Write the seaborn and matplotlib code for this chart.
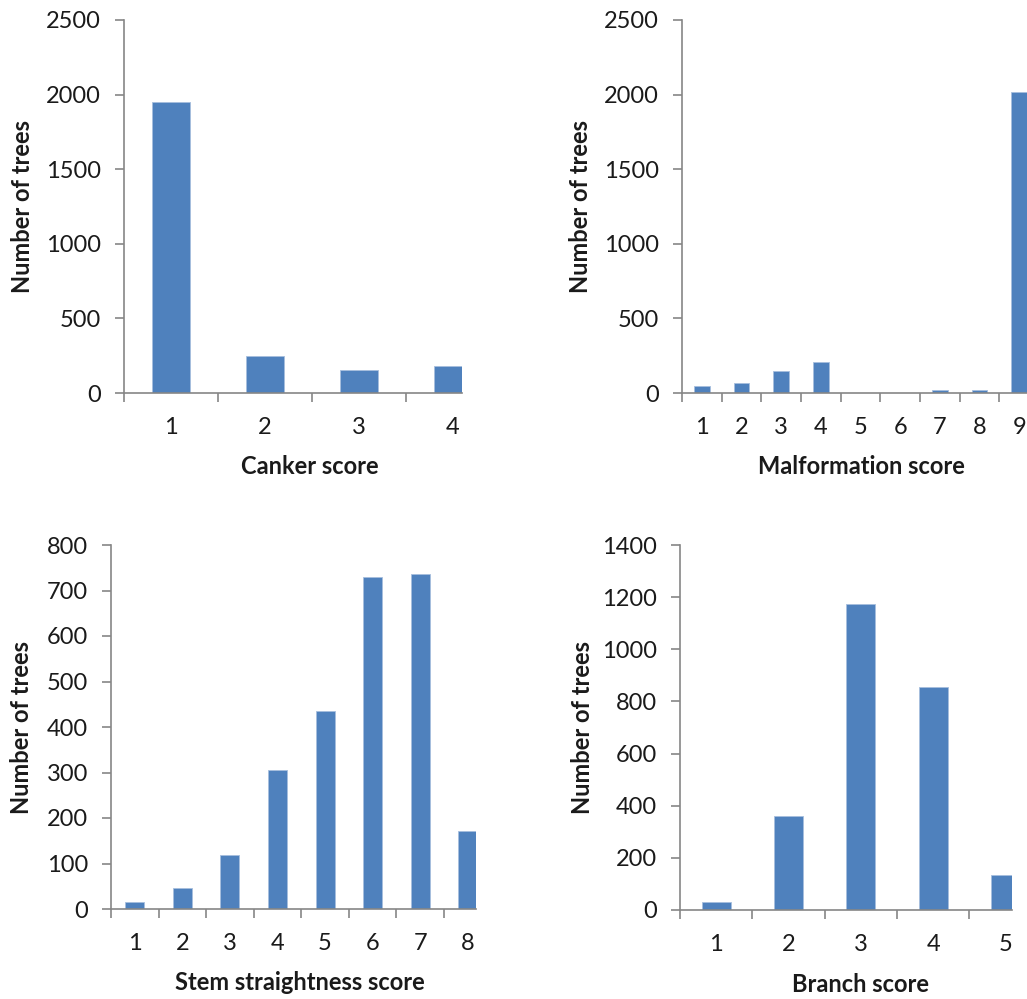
import matplotlib
matplotlib.use("Agg")
import matplotlib.pyplot as plt
import seaborn as sns
import numpy as np

# ---- data ----
canker_scores = ["1", "2", "3", "4"]
canker_counts = [1950, 250, 156, 181]

malformation_scores = ["1", "2", "3", "4", "5", "6", "7", "8", "9"]
malformation_counts = [45, 69, 150, 208, 0, 0, 20, 20, 2017]

stem_scores = ["1", "2", "3", "4", "5", "6", "7", "8"]
stem_counts = [15, 46, 119, 305, 436, 730, 736, 172]

branch_scores = ["1", "2", "3", "4", "5"]
branch_counts = [30, 360, 1173, 855, 133]

sns.set_style("white")
plt.rcParams["font.family"] = ["Lato", "DejaVu Sans"]

W, H = 1027, 999
fig = plt.figure(figsize=(W / 100, H / 100), dpi=100)

BAR = "#4F81BD"
AXC = "#868686"
TXT = "#1a1a1a"
FS = 17

panels = [
    # cats, vals, label, (left, right, top, bottom) px, ymax, ystep, xright
    (canker_scores, canker_counts, "Canker score", (124, 462, 20, 393), 2500, 500, 3.096),
    (malformation_scores, malformation_counts, "Malformation score", (682, 1027, 20, 393), 2500, 500, 8.197),
    (stem_scores, stem_counts, "Stem straightness score", (111, 476, 545, 909), 800, 100, 7.173),
    (branch_scores, branch_counts, "Branch score", (680, 1012, 545, 910), 1400, 200, 4.091),
]
ylab_x = [22, 580, 22, 582]
xlab_cx = [310, 861, 300, 860]

for i, (cats, vals, xl, (l, r, t, b), ymax, ystep, xr) in enumerate(panels):
    ax = fig.add_axes([l / W, 1 - b / H, (r - l) / W, (b - t) / H])
    sns.barplot(x=cats, y=vals, order=cats, ax=ax, color=BAR, saturation=1,
                width=0.4, edgecolor="#A7BEDD", linewidth=0.6)
    for s in ["top", "right"]:
        ax.spines[s].set_visible(False)
    for s in ["left", "bottom"]:
        ax.spines[s].set_color(AXC)
        ax.spines[s].set_linewidth(1.2)
        ax.spines[s].set_zorder(5)
    n = len(cats)
    ax.set_xticks(np.arange(n))
    ax.set_xticklabels(cats)
    ax.set_xticks(np.arange(-0.5, n, 1.0), minor=True)
    ax.set_yticks(np.arange(0, ymax + 1, ystep))
    ax.set_xlim(-0.5, xr)
    ax.set_ylim(0, ymax)
    ax.tick_params(axis="x", which="major", length=0, pad=17, labelsize=FS, labelcolor=TXT)
    ax.tick_params(axis="x", which="minor", length=6.5, width=1.2, color=AXC, direction="out", bottom=True)
    ax.tick_params(axis="y", which="major", length=6.5, width=1.2, color=AXC, direction="out",
                   pad=10, labelsize=FS, labelcolor=TXT, left=True)
    ax.set_xlabel(xl, fontsize=FS, fontweight="bold", color=TXT, va="center")
    ax.set_ylabel("Number of trees", fontsize=FS, fontweight="bold", color=TXT, va="center")
    ax.xaxis.set_label_coords((xlab_cx[i] - l) / (r - l), -74 / (b - t))
    ax.yaxis.set_label_coords((ylab_x[i] - l) / (r - l), 0.5)
    ax.grid(False)

fig.savefig("out.png", dpi=100)
